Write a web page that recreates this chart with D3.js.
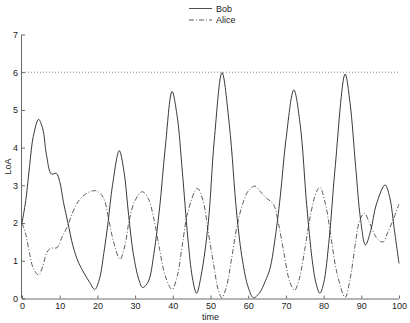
<!DOCTYPE html>
<html>
<head>
<meta charset="utf-8">
<script src="https://cdn.jsdelivr.net/npm/d3@7"></script>
<style>
  body { margin: 0; background: #fff; }
  svg { font-family: "Liberation Sans", Arial, sans-serif; }
</style>
</head>
<body>
<div id="chart"></div>
<script>
// series values: [time, LoA]
const bobData = [
  [0, 2.0], [1, 2.6], [2, 3.5], [3, 4.3], [4.4, 4.75], [5.5, 4.5], [6.5, 3.8], [7.8, 3.3],
  [9.1, 3.32], [10, 3.1], [11, 2.55], [12.2, 2.0], [13.5, 1.4], [15, 0.95], [16.6, 0.65],
  [18, 0.42], [19.3, 0.24], [20.5, 0.5], [21.7, 1.2], [22.8, 2.0], [24, 3.0], [25.8, 3.92],
  [27, 3.4], [28.3, 2.2], [29.5, 1.2], [31, 0.5], [32, 0.29], [33.5, 0.45], [35, 1.2],
  [36.5, 2.4], [38, 4.0], [39.8, 5.49], [41.2, 4.8], [42.5, 3.4], [44, 1.6], [45.2, 0.55],
  [46.3, 0.14], [47.5, 0.6], [49.4, 2.0], [51, 4.2], [53.05, 5.99], [55, 4.6], [57, 2.2],
  [58.5, 1.0], [60, 0.3], [61.4, 0.02], [63, 0.15], [64.5, 0.45], [65.8, 0.8], [67, 1.5],
  [68.5, 2.7], [70, 4.2], [72.1, 5.53], [73.8, 4.6], [75.5, 2.5], [77, 1.0], [78, 0.4],
  [79, 0.14], [80, 0.4], [81.5, 1.6], [83, 3.4], [85.7, 5.95], [87, 5.2], [88.5, 3.5],
  [89.8, 2.1], [91.1, 1.42], [92.5, 1.8], [94, 2.5], [96.3, 3.01], [97.5, 2.7], [98.8, 1.8],
  [100, 0.93]
];

const aliceData = [
  [0, 2.0], [1, 1.7], [2, 1.2], [3, 0.8], [4.4, 0.62], [5.5, 0.85], [6.5, 1.2], [7.5, 1.33],
  [9.3, 1.35], [10.5, 1.6], [12.2, 1.95], [13.5, 2.3], [14.9, 2.57], [17, 2.78], [19.5, 2.86],
  [20.8, 2.78], [21.9, 2.6], [23, 2.1], [24.3, 1.5], [26, 1.04], [27.3, 1.4], [28.5, 2.1],
  [30, 2.6], [31.9, 2.83], [33.5, 2.65], [35, 2.1], [36.5, 1.3], [38, 0.6], [39.8, 0.24],
  [41.2, 0.6], [42.5, 1.4], [44, 2.3], [46.5, 2.92], [48, 2.6], [49.5, 1.7], [51, 0.8],
  [52, 0.25], [53, 0.02], [54.2, 0.3], [55.5, 1.0], [57, 1.9], [58.5, 2.5], [60, 2.85],
  [61.8, 2.98], [63.5, 2.8], [65, 2.65], [66.7, 2.5], [68, 2.0], [69.5, 1.2], [71, 0.45],
  [72.3, 0.22], [73.5, 0.5], [75, 1.3], [76.5, 2.2], [78, 2.8], [79, 2.95], [80.5, 2.5],
  [82, 1.6], [83.5, 0.7], [85.7, 0.03], [87, 0.5], [88.5, 1.5], [89.5, 2.05], [90.8, 2.26],
  [92, 2.05], [93.5, 1.7], [94.5, 1.55], [95.8, 1.5], [97, 1.75], [98.5, 2.1], [100, 2.5]
];

const thresholdValue = 6;
const xTicks = [0, 10, 20, 30, 40, 50, 60, 70, 80, 90, 100];
const yTicks = [0, 1, 2, 3, 4, 5, 6, 7];
const seriesNames = ["Bob", "Alice"];

const W = 410, H = 323;
const plot = { left: 22, right: 399, top: 34.5, bottom: 298.5 };

const svg = d3.select("#chart").append("svg")
    .attr("width", W)
    .attr("height", H);

const x = d3.scaleLinear().domain([0, 100]).range([plot.left, plot.right]);
const y = d3.scaleLinear().domain([0, 7]).range([plot.bottom, plot.top]);

// axes, matlab style: ticks pointing inward, no box
const xAxis = svg.append("g")
    .attr("transform", "translate(0," + plot.bottom + ")")
    .call(d3.axisBottom(x).tickValues(xTicks).tickFormat(d3.format("d")).tickSize(-3).tickPadding(4));
const yAxis = svg.append("g")
    .attr("transform", "translate(" + plot.left + ",0)")
    .call(d3.axisLeft(y).tickValues(yTicks).tickFormat(d3.format("d")).tickSize(-3).tickPadding(4));

[xAxis, yAxis].forEach(g => {
    g.select(".domain").attr("stroke", "#444").attr("stroke-width", 0.8);
    g.selectAll(".tick line").attr("stroke", "#444").attr("stroke-width", 0.8);
    g.selectAll(".tick text")
        .attr("fill", "#222")
        .style("font-size", "9px")
        .style("font-family", "'Liberation Sans', Arial, sans-serif");
});
// domain path has outer ticks of size -3; keep them flat
xAxis.select(".domain").attr("d", "M" + plot.left + ",0.5H" + plot.right);
yAxis.select(".domain").attr("d", "M-0.5," + plot.top + "V" + plot.bottom);

// axis labels
svg.append("text")
    .attr("x", (plot.left + plot.right) / 2)
    .attr("y", 320)
    .attr("text-anchor", "middle")
    .attr("fill", "#222")
    .style("font-size", "9px")
    .text("time");

svg.append("text")
    .attr("transform", "rotate(-90)")
    .attr("x", -(plot.top + plot.bottom) / 2)
    .attr("y", 11)
    .attr("text-anchor", "middle")
    .attr("fill", "#222")
    .style("font-size", "9px")
    .text("LoA");

// dotted threshold line
svg.append("line")
    .attr("x1", x(0))
    .attr("x2", x(100))
    .attr("y1", y(thresholdValue))
    .attr("y2", y(thresholdValue))
    .attr("stroke", "#666")
    .attr("stroke-width", 0.8)
    .attr("stroke-dasharray", "1,2");

const line = d3.line()
    .x(d => x(d[0]))
    .y(d => y(d[1]))
    .curve(d3.curveCatmullRom.alpha(0.5));

svg.append("path")
    .datum(bobData)
    .attr("fill", "none")
    .attr("stroke", "#222")
    .attr("stroke-width", 0.9)
    .attr("d", line);

svg.append("path")
    .datum(aliceData)
    .attr("fill", "none")
    .attr("stroke", "#333")
    .attr("stroke-width", 0.8)
    .attr("stroke-dasharray", "5,2,1,2")
    .attr("d", line);

// legend
const legend = svg.append("g");
const legendStyles = [
    { dash: null, color: "#222" },
    { dash: "5,2,1,2", color: "#333" }
];
seriesNames.forEach((name, i) => {
    const ly = 8.5 + i * 11.5;
    legend.append("line")
        .attr("x1", 189)
        .attr("x2", 212)
        .attr("y1", ly)
        .attr("y2", ly)
        .attr("stroke", legendStyles[i].color)
        .attr("stroke-width", 0.8)
        .attr("stroke-dasharray", legendStyles[i].dash);
    legend.append("text")
        .attr("x", 216)
        .attr("y", ly + 3)
        .attr("fill", "#222")
        .style("font-size", "9px")
        .text(name);
});
</script>
</body>
</html>
